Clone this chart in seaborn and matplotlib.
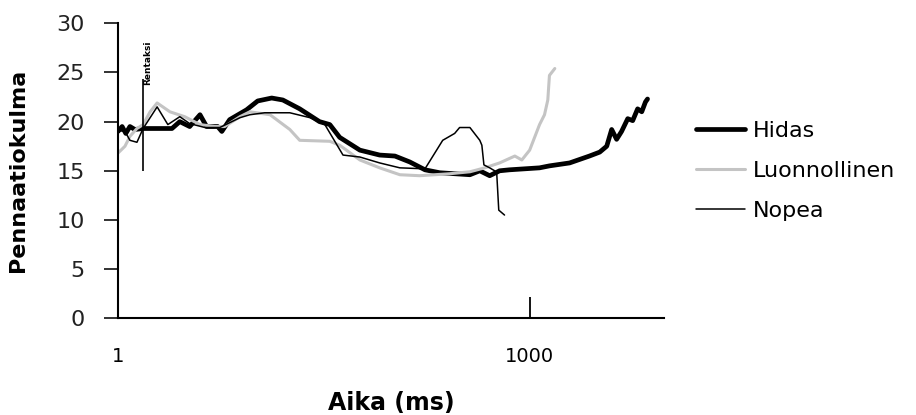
import matplotlib
matplotlib.use("Agg")
import matplotlib.pyplot as plt
import seaborn as sns
import pandas as pd

sns.set_style("ticks")
plt.rcParams['font.family'] = ['DejaVu Sans']
plt.rcParams['text.color'] = 'black'
plt.rcParams['axes.labelcolor'] = 'black'

# Time (ms) and pennation angle for each movement speed
hidas_t = [1, 11, 20, 30, 42, 62, 132, 151, 175, 200, 216, 243, 253, 272, 313, 340, 374, 401,
           442, 490, 515, 539, 588, 636, 673, 709, 746, 782, 855, 879, 903, 927, 951, 1024,
           1048, 1097, 1145, 1170, 1187, 1199, 1211, 1223, 1238, 1250, 1262, 1272, 1281, 1286]
hidas_v = [19.0, 19.5, 18.8, 19.5, 19.2, 19.3, 19.3, 20.0, 19.5, 20.7, 19.5, 19.5, 19.0, 20.2,
           21.2, 22.1, 22.4, 22.2, 21.3, 20.0, 19.7, 18.4, 17.1, 16.6, 16.5, 15.9, 15.1, 14.8,
           14.6, 15.0, 14.5, 15.0, 15.1, 15.3, 15.5, 15.8, 16.5, 16.9, 17.5, 19.2, 18.2, 19.0,
           20.3, 20.1, 21.3, 21.0, 22.0, 22.3]

luonn_t = [1, 18, 30, 47, 62, 79, 96, 127, 163, 200, 236, 260, 297, 321, 370, 418, 442, 515,
           539, 588, 636, 685, 733, 806, 855, 891, 927, 964, 981, 1000, 1024, 1036, 1044, 1048, 1061]
luonn_v = [16.8, 17.5, 18.5, 19.3, 19.7, 21.0, 21.9, 21.0, 20.5, 19.7, 19.5, 19.5, 20.5, 21.0,
           20.7, 19.2, 18.1, 18.0, 17.6, 16.1, 15.3, 14.6, 14.5, 14.7, 14.9, 15.3, 15.8, 16.5,
           16.1, 17.1, 19.7, 20.7, 22.2, 24.7, 25.4]

nopea_t = [1, 18, 30, 47, 62, 96, 122, 151, 175, 212, 248, 297, 321, 357, 418, 467, 503, 547,
           588, 636, 685, 746, 789, 818, 830, 855, 879, 884, 889, 903, 915, 920, 925, 939]
nopea_v = [19.1, 19.0, 18.1, 17.9, 19.3, 21.5, 19.7, 20.5, 19.8, 19.4, 19.4, 20.4, 20.7, 20.9,
           20.9, 20.4, 19.7, 16.6, 16.4, 15.8, 15.3, 15.2, 18.1, 18.8, 19.4, 19.4, 18.1, 17.6,
           15.6, 15.3, 15.0, 14.8, 11.0, 10.5]

series_names = ["Hidas", "Luonnollinen", "Nopea"]
marker_t = 61
marker_range = [15.0, 24.3]
marker_label = "Rentaksi"
x_ticks = [1, 1000]
y_ticks = [0, 5, 10, 15, 20, 25, 30]

fig = plt.figure(figsize=(9.16, 4.15), dpi=100)
ax = fig.add_axes([0.1288, 0.2330, 0.5961, 0.7109])

styles = {
    "Hidas": dict(color="black", lw=3.4),
    "Luonnollinen": dict(color="#c4c4c4", lw=2.2),
    "Nopea": dict(color="black", lw=1.1),
}
data = {"Hidas": (hidas_t, hidas_v), "Luonnollinen": (luonn_t, luonn_v), "Nopea": (nopea_t, nopea_v)}
for name in series_names:
    t, v = data[name]
    sns.lineplot(x=t, y=v, ax=ax, estimator=None, sort=False, label=name, **styles[name])

ax.vlines(marker_t, marker_range[0], marker_range[1], color="black", lw=1.2)
ax.text(marker_t + 12, marker_range[1] - 0.6, marker_label, rotation=90, ha="center", va="bottom",
        fontsize=6.5, fontweight="bold")

ax.set_xlim(1, 1326)
ax.set_ylim(0, 30)
ax.set_xticks(x_ticks)
ax.set_xticklabels([str(t) for t in x_ticks])
ax.set_yticks(y_ticks)
ax.tick_params(axis="x", direction="in", length=15, width=1.3, pad=21, labelsize=14, colors="black")
ax.tick_params(axis="y", direction="out", length=10, width=1.3, pad=14, labelsize=16, colors="#222222")
for s in ["top", "right"]:
    ax.spines[s].set_visible(False)
for s in ["left", "bottom"]:
    ax.spines[s].set_linewidth(1.5)
    ax.spines[s].set_color("black")

ax.set_xlabel("Aika (ms)", fontsize=17, fontweight="bold", labelpad=18)
ax.set_ylabel("Pennaatiokulma", fontsize=16, fontweight="bold", labelpad=20)

leg = ax.legend(loc="center left", bbox_to_anchor=(1.022, 0.50), frameon=False, fontsize=16,
                handlelength=2.2, handletextpad=0.35, labelspacing=0.9)

fig.savefig("out.png", dpi=100, facecolor="white")
